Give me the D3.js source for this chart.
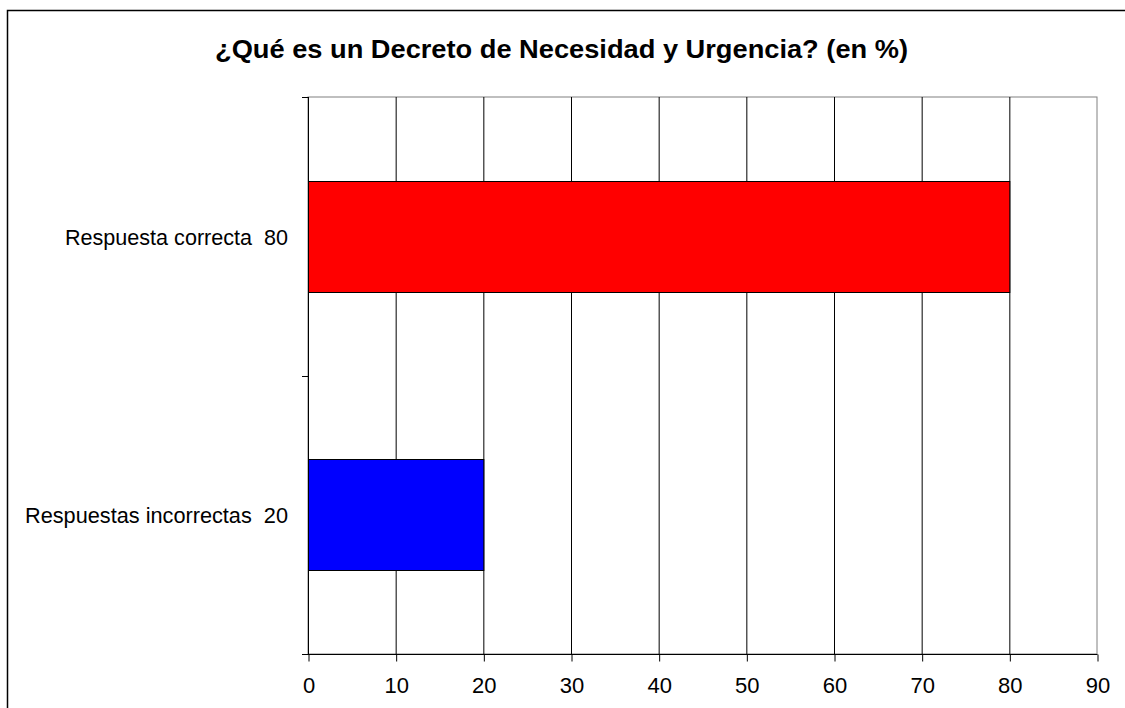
<!DOCTYPE html>
<html><head><meta charset="utf-8">
<script src="https://cdn.jsdelivr.net/npm/d3@7"></script>
<style>body{margin:0;background:#fff}svg{display:block}text{white-space:pre}</style>
</head><body>
<svg id="c" width="1125" height="708"></svg>
<script>
const categories = ["Respuesta correcta  80", "Respuestas incorrectas  20"];
const values = [80, 20];
const colors = ["#ff0000", "#0000ff"];
const xTicks = [0, 10, 20, 30, 40, 50, 60, 70, 80, 90];
const title = "¿Qué es un Decreto de Necesidad y Urgencia? (en %)";

const svg = d3.select("#c");
const font = "'Liberation Sans', Arial, sans-serif";
// outer border
svg.append("rect").attr("x", 7.5).attr("y", 10.5).attr("width", 1130).attr("height", 710)
  .attr("fill", "none").attr("stroke", "#000").attr("stroke-width", 1.5);

const L = 308, R = 1097, T = 97, B = 654;
const x = d3.scaleLinear().domain([0, 90]).range([L, R]);
const y = d3.scaleBand().domain(categories).range([T, B]).paddingInner(0.6).paddingOuter(0.3);

// plot border
svg.append("rect").attr("x", L).attr("y", T).attr("width", R - L).attr("height", B - T)
  .attr("fill", "none").attr("stroke", "#808080").attr("stroke-width", 1);

// gridlines
svg.append("g").selectAll("line").data(xTicks.filter(d => d > 0 && d < 90)).join("line")
  .attr("x1", d => x(d) + 0.5).attr("x2", d => x(d) + 0.5).attr("y1", T).attr("y2", B)
  .attr("stroke", "#000").attr("stroke-width", 1);

// bars
svg.append("g").selectAll("rect").data(values).join("rect")
  .attr("x", x(0) + 0.5).attr("y", (d, i) => Math.round(y(categories[i])) + 0.5)
  .attr("width", d => x(d) - x(0)).attr("height", Math.round(y.bandwidth()))
  .attr("fill", (d, i) => colors[i]).attr("stroke", "#000").attr("stroke-width", 1);

// x axis
const xAxis = d3.axisBottom(x).tickValues(xTicks).tickSize(7).tickPadding(16).tickSizeOuter(0);
const gx = svg.append("g").attr("transform", `translate(0.5,${B + 0.5})`).call(xAxis);
gx.select(".domain").attr("stroke", "#000").attr("d", `M${L - 6},0H${R}`);
gx.selectAll(".tick line").attr("stroke", "#000");
gx.selectAll("text").attr("font-family", font).attr("font-size", 22).attr("fill", "#000");

// y axis line + ticks at band boundaries
const yBound = [T, (T + B) / 2, B];
svg.append("line").attr("x1", L + 0.5).attr("x2", L + 0.5).attr("y1", T).attr("y2", B)
  .attr("stroke", "#000");
svg.append("g").selectAll("line").data(yBound).join("line")
  .attr("x1", L - 6).attr("x2", L).attr("y1", d => Math.round(d) + 0.5).attr("y2", d => Math.round(d) + 0.5)
  .attr("stroke", "#000");

// category labels
const labelWidths = [223, 263];
svg.append("g").selectAll("text").data(categories).join("text")
  .attr("x", (d, i) => 288 - labelWidths[i]).attr("y", d => y(d) + y.bandwidth() / 2)
  .attr("dy", "0.38em").attr("text-anchor", "start")
  .attr("textLength", (d, i) => labelWidths[i]).attr("lengthAdjust", "spacingAndGlyphs")
  .attr("font-family", font).attr("font-size", 22).attr("fill", "#000").text(d => d);

// title
svg.append("text").attr("x", 215).attr("y", 58).attr("text-anchor", "start")
  .attr("textLength", 693).attr("lengthAdjust", "spacingAndGlyphs")
  .attr("font-family", font).attr("font-size", 25).attr("font-weight", "bold").text(title);
</script>
</body></html>
